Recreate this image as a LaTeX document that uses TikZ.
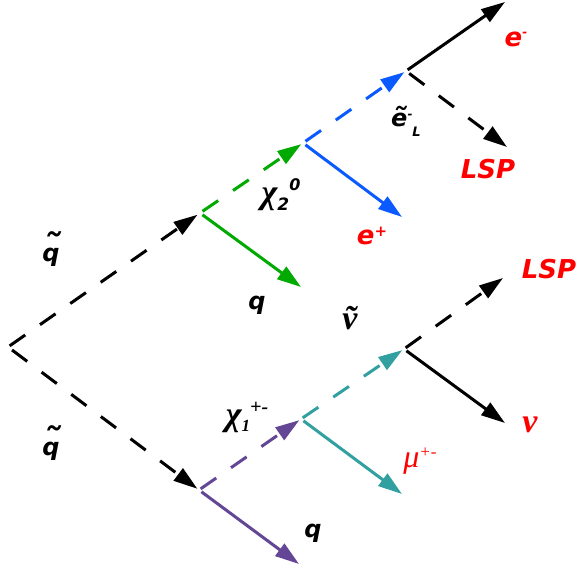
\documentclass[tikz,border=0pt]{standalone}
\usepackage{fontspec}
\usepackage{xcolor}
\usetikzlibrary{arrows.meta}
\newfontfamily\labfont{DejaVu Sans}
\newfontfamily\grkfont{Liberation Serif}
\definecolor{chiAgreen}{RGB}{0,170,0}
\definecolor{selblue}{RGB}{10,90,255}
\definecolor{snuteal}{RGB}{50,160,160}
\definecolor{chiBpurple}{RGB}{100,70,150}
% tilde set over a letter: raise, scale, letter
\newcommand{\tld}[3]{\ooalign{\hfil\raisebox{#1}{\scalebox{#2}{˜}}\hfil\cr#3\cr}}

\begin{document}
\begin{tikzpicture}[x=1pt, y=-1pt]
            \tikzstyle{every node}=[inner sep=0pt]
            \tikzstyle{prt}=[line width=3pt, -{Triangle[length=24pt,width=15pt]}]
            \tikzstyle{dsh}=[prt, dash pattern=on 19pt off 18pt]
            \tikzstyle{lab}=[font=\fontsize{24}{26}\labfont\bfseries\itshape]
            \tikzstyle{redlab}=[font=\fontsize{26}{28}\labfont\bfseries\itshape, text=red]
            \tikzstyle{grk}=[font=\fontsize{34}{36}\grkfont\bfseries\itshape]
            \useasboundingbox (0,0) rectangle (576,569);

            % Vertices
            \coordinate (root) at (8,347);
            \coordinate (sqA) at (200,213);
            \coordinate (chiA) at (303,143);
            \coordinate (selA) at (406,71);
            \coordinate (sqB) at (199,490);
            \coordinate (chiB) at (301,419);
            \coordinate (snu) at (404,349);

            % Outgoing ends
            \coordinate (qAend) at (301,287);
            \coordinate (eplend) at (402,217);
            \coordinate (emend) at (505,2);
            \coordinate (lspAend) at (507,147);
            \coordinate (qBend) at (299,564);
            \coordinate (muend) at (402,494);
            \coordinate (lspBend) at (503,278);
            \coordinate (nuend) at (505,423);

            % Squarks
            \draw[dsh, shorten <=2pt, shorten >=3pt] (root) -- (sqA);
            \draw[dsh, shorten <=5pt, shorten >=2pt] (root) -- (sqB);

            % Upper chain
            \draw[dsh, chiAgreen, shorten <=3pt, shorten >=2pt] (sqA) -- (chiA);
            \draw[prt, chiAgreen, shorten <=3pt] (sqA) -- (qAend);
            \draw[dsh, selblue, shorten <=3pt, shorten >=2pt] (chiA) -- (selA);
            \draw[prt, selblue, shorten <=3pt] (chiA) -- (eplend);
            \draw[prt, shorten <=2pt] (selA) -- (emend);
            \draw[dsh, shorten <=4pt] (selA) -- (lspAend);

            % Lower chain
            \draw[dsh, chiBpurple, shorten <=2pt, shorten >=2pt] (sqB) -- (chiB);
            \draw[prt, chiBpurple, shorten <=3pt] (sqB) -- (qBend);
            \draw[dsh, snuteal, shorten <=2pt, shorten >=2pt] (chiB) -- (snu);
            \draw[prt, snuteal, shorten <=3pt] (chiB) -- (muend);
            \draw[dsh, shorten <=2pt] (snu) -- (lspBend);
            \draw[prt, shorten <=3pt] (snu) -- (nuend);

            % Labels
            \node[lab] (sqAlab) at (52,249) {\tld{0pt}{1.6}{q}};
            \node[lab] (sqBlab) at (52,443) {\tld{0pt}{1.6}{q}};
            \node[lab] (qAlab) at (257,305) {q};
            \node[lab] (qBlab) at (313,533) {q};
            \node[grk] (chiAlab) at (281,195) {χ\raisebox{-7pt}{\fontsize{17}{17}\labfont\bfseries 2}\raisebox{13pt}{\fontsize{16}{16}\labfont\bfseries\itshape 0}};
            \node[grk] (chiBlab) at (247,417) {χ\raisebox{-6pt}{\fontsize{17}{17}\grkfont\itshape 1}\raisebox{12pt}{\fontsize{20}{20}\grkfont +-}};
            \node[lab] (sellab) at (406,121) {\tld{-4pt}{1.3}{e}\raisebox{8pt}{\fontsize{12}{12}\labfont\bfseries -}\raisebox{-10pt}{\fontsize{13}{13}\labfont\bfseries\itshape L}};
            \node[grk] (snulab) at (350,318) {\tld{0pt}{1}{ν}};
            \node[redlab] (epllab) at (372,236) {e\raisebox{8pt}{\fontsize{15}{15}\labfont +}};
            \node[redlab] (emlab) at (516,39) {e\raisebox{10pt}{\fontsize{12}{12}\labfont -}};
            \node[redlab] (lspAlab) at (488,169) {LSP};
            \node[redlab] (lspBlab) at (549,269) {LSP};
            \node[font=\fontsize{32}{34}\grkfont\itshape, text=red] (mulab) at (420,461) {μ\raisebox{10pt}{\fontsize{17}{17}\grkfont +-}};
            \node[grk, text=red] (nulab) at (530,425) {ν};
\end{tikzpicture}
\end{document}
